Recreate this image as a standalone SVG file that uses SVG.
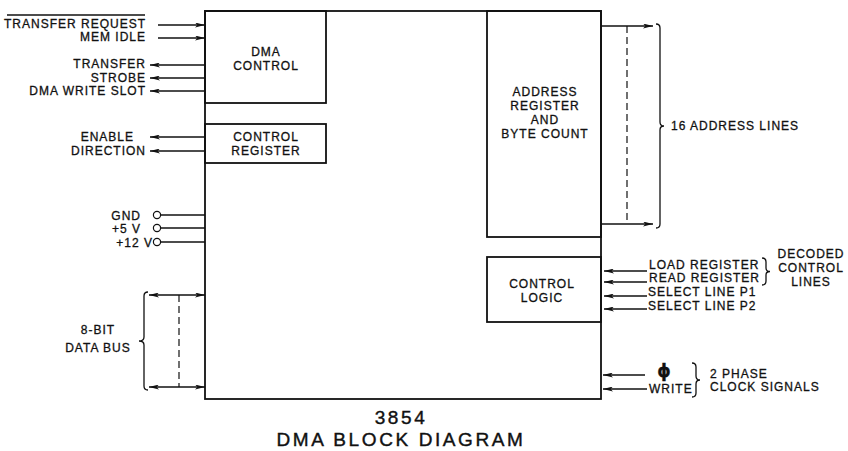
<svg xmlns="http://www.w3.org/2000/svg" width="848" height="451" viewBox="0 0 848 451">
<style>
text{font-family:"Liberation Sans",Arial,sans-serif;font-size:12px;letter-spacing:1px;fill:#111;stroke:#111;stroke-width:0.3}
.box{fill:none;stroke:#111;stroke-width:1.8}
.ln{fill:none;stroke:#111;stroke-width:1.3}
.dash{fill:none;stroke:#111;stroke-width:1.2;stroke-dasharray:7 4}
.pin{fill:#fff;stroke:#111;stroke-width:1.2}
.r{text-anchor:end}
.c{text-anchor:middle}
.title{font-size:19px;letter-spacing:2.6px;stroke-width:0.4}
</style>
<defs>
<marker id="ah" viewBox="0 0 12 6" refX="12" refY="3" markerUnits="userSpaceOnUse" markerWidth="11" markerHeight="5" orient="auto-start-reverse">
<path d="M0,0 L12,3 L0,6 L3,3 z" fill="#111"/>
</marker>
</defs>
<rect width="848" height="451" fill="#fff"/>

<g id="chip">
<rect class="box" x="205" y="11" width="396" height="388"/>
</g>
<g id="dma-control">
<rect class="box" x="205" y="11" width="121" height="92"/>
<text class="c" x="266" y="56">DMA</text>
<text class="c" x="266" y="70">CONTROL</text>
</g>
<g id="control-register">
<rect class="box" x="205" y="124" width="121" height="39"/>
<text class="c" x="266" y="141">CONTROL</text>
<text class="c" x="266" y="155">REGISTER</text>
</g>
<g id="address-register">
<rect class="box" x="487" y="11" width="114" height="226"/>
<text class="c" x="545" y="96">ADDRESS</text>
<text class="c" x="545" y="110">REGISTER</text>
<text class="c" x="545" y="124">AND</text>
<text class="c" x="545" y="138">BYTE COUNT</text>
</g>
<g id="control-logic">
<rect class="box" x="487" y="257" width="114" height="65"/>
<text class="c" x="542" y="288">CONTROL</text>
<text class="c" x="542" y="302">LOGIC</text>
</g>

<g id="connectors">
<line class="ln" x1="158" y1="25" x2="205" y2="25" marker-end="url(#ah)"/>
<line class="ln" x1="158" y1="38" x2="205" y2="38" marker-end="url(#ah)"/>
<line class="ln" x1="205" y1="65" x2="150" y2="65" marker-end="url(#ah)"/>
<line class="ln" x1="205" y1="78" x2="150" y2="78" marker-end="url(#ah)"/>
<line class="ln" x1="205" y1="91" x2="150" y2="91" marker-end="url(#ah)"/>
<line class="ln" x1="205" y1="137" x2="150" y2="137" marker-end="url(#ah)"/>
<line class="ln" x1="205" y1="151" x2="150" y2="151" marker-end="url(#ah)"/>
<line class="ln" x1="161" y1="215" x2="205" y2="215"/>
<line class="ln" x1="161" y1="228" x2="205" y2="228"/>
<line class="ln" x1="161" y1="242" x2="205" y2="242"/>
<line class="ln" x1="149" y1="295" x2="205" y2="295" marker-start="url(#ah)" marker-end="url(#ah)"/>
<line class="ln" x1="149" y1="387" x2="205" y2="387" marker-start="url(#ah)" marker-end="url(#ah)"/>
<line class="dash" x1="179" y1="295" x2="179" y2="387"/>
<line class="ln" x1="601" y1="26" x2="653" y2="26" marker-end="url(#ah)"/>
<line class="ln" x1="601" y1="224" x2="653" y2="224" marker-end="url(#ah)"/>
<line class="dash" x1="627" y1="26" x2="627" y2="224"/>
<line class="ln" x1="647" y1="271" x2="604" y2="271" marker-end="url(#ah)"/>
<line class="ln" x1="647" y1="282" x2="604" y2="282" marker-end="url(#ah)"/>
<line class="ln" x1="647" y1="296" x2="604" y2="296" marker-end="url(#ah)"/>
<line class="ln" x1="647" y1="309" x2="604" y2="309" marker-end="url(#ah)"/>
<line class="ln" x1="645" y1="375" x2="603" y2="375" marker-end="url(#ah)"/>
<line class="ln" x1="647" y1="389" x2="603" y2="389" marker-end="url(#ah)"/>
</g>

<g id="left-signals">
<line class="ln" x1="7" y1="15" x2="145" y2="15"/>
<text class="r" x="146" y="28">TRANSFER REQUEST</text>
<text class="r" x="146" y="41">MEM IDLE</text>
<text class="r" x="146" y="68">TRANSFER</text>
<text class="r" x="146" y="82">STROBE</text>
<text class="r" x="146" y="95">DMA WRITE SLOT</text>
<text class="r" x="134" y="141">ENABLE</text>
<text class="r" x="146" y="155">DIRECTION</text>
</g>
<g id="power-pins">
<circle class="pin" cx="157" cy="215" r="3.6"/>
<circle class="pin" cx="157" cy="228" r="3.6"/>
<circle class="pin" cx="157" cy="242" r="3.6"/>
<text class="r" x="141" y="220">GND</text>
<text class="r" x="141" y="233">+5 V</text>
<text class="r" x="153" y="247">+12 V</text>
</g>
<g id="data-bus">
<path class="ln" d="M148,292 Q144,292 144,296 L144,337 Q144,341 139,341 Q144,341 144,345 L144,386 Q144,390 148,390"/>
<text class="c" x="98" y="334">8-BIT</text>
<text class="c" x="98" y="352">DATA BUS</text>
</g>
<g id="address-lines">
<path class="ln" d="M656,24 Q660,24 660,28 L660,122 Q660,126 664,126 Q660,126 660,130 L660,224 Q660,228 656,228"/>
<text x="671" y="130">16 ADDRESS LINES</text>
</g>
<g id="control-inputs">
<text x="649" y="269">LOAD REGISTER</text>
<text x="649" y="282">READ REGISTER</text>
<text x="648" y="296">SELECT LINE P1</text>
<text x="648" y="310">SELECT LINE P2</text>
<path class="ln" d="M762,258 Q766,258 766,262 L766,268 Q766,271.5 770,271.5 Q766,271.5 766,275 L766,281 Q766,285 762,285"/>
<text class="c" x="811" y="258">DECODED</text>
<text class="c" x="811" y="272">CONTROL</text>
<text class="c" x="811" y="286">LINES</text>
</g>
<g id="clock">
<text class="c" x="664" y="377" style="font-family:'DejaVu Sans',sans-serif;font-size:17px;font-weight:bold;letter-spacing:0">ϕ</text>
<text x="649" y="393">WRITE</text>
<path class="ln" d="M692,363 Q696,363 696,367 L696,376 Q696,380 700,380 Q696,380 696,384 L696,393 Q696,397 692,397"/>
<text x="710" y="378">2 PHASE</text>
<text x="710" y="391">CLOCK SIGNALS</text>
</g>
<g id="caption">
<text class="c title" x="401" y="424">3854</text>
<text class="c title" x="401" y="446">DMA BLOCK DIAGRAM</text>
</g>
</svg>
